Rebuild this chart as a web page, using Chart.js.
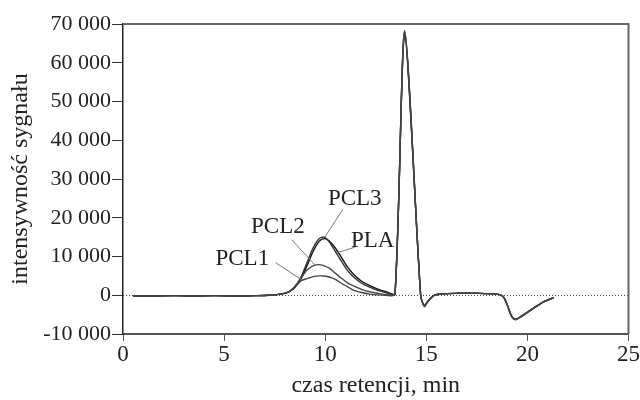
<!DOCTYPE html>
<html>
<head>
<meta charset="utf-8">
<script src="https://cdn.jsdelivr.net/npm/chart.js@4.4.1/dist/chart.umd.min.js"></script>
<style>
html,body{margin:0;padding:0;background:#fff;}
#wrap{width:640px;height:400px;}
</style>
</head>
<body>
<div id="wrap"><canvas id="c" width="640" height="400"></canvas></div>
<script>
// retention time (min)
const times = [0.5, 1.5, 2.5, 3.5, 4.5, 5.5, 6.5, 7.2, 7.8, 8.2, 8.5, 8.8, 9.1, 9.4, 9.7, 9.95, 10.2, 10.5, 10.8, 11.1, 11.4, 11.8, 12.2, 12.6, 13.0, 13.45, 13.93, 14.72, 14.9, 15.1, 15.4, 15.8, 16.5, 17.5, 18.5, 18.8, 19.0, 19.2, 19.4, 19.7, 20.0, 20.4, 20.8, 21.3];
// signal intensity per sample
const pcl1 = [-200, -200, -100, -200, -100, -200, -100, 0, 300, 900, 2200, 3700, 4300, 4800, 5000, 4950, 4700, 4100, 3100, 2200, 1300, 700, 300, 100, 0, 200, 67500, 0, -2600, -1400, 0, 400, 500, 500, 300, -300, -2400, -5200, -6200, -5400, -4400, -3000, -1700, -600];
const pcl2 = [-200, -200, -100, -200, -100, -200, -100, 0, 300, 900, 2200, 4400, 6500, 7600, 7900, 7600, 7000, 5700, 4400, 3200, 2400, 1500, 900, 500, 200, 250, 68000, 0, -2800, -1500, 0, 400, 500, 500, 300, -300, -2500, -5300, -6300, -5500, -4400, -3000, -1700, -600];
const pcl3 = [-200, -200, -100, -200, -100, -200, -100, 0, 300, 900, 2200, 4600, 8400, 12200, 14600, 15000, 13800, 11300, 8800, 6400, 4700, 3100, 2100, 1300, 700, 300, 68300, 0, -2900, -1500, 0, 400, 500, 500, 300, -300, -2500, -5300, -6300, -5500, -4400, -3000, -1700, -600];
const pla  = [-200, -200, -100, -200, -100, -200, -100, 0, 300, 900, 2000, 4200, 7600, 11300, 13900, 14600, 14000, 12200, 9800, 7300, 5400, 3600, 2500, 1600, 900, 400, 67000, 0, -2700, -1400, 0, 400, 500, 500, 300, -300, -2400, -5200, -6200, -5400, -4400, -3000, -1700, -600];
const seriesNames = ['PCL1', 'PCL2', 'PCL3', 'PLA'];
const xTicks = [0, 5, 10, 15, 20, 25];
const yTicks = [-10000, 0, 10000, 20000, 30000, 40000, 50000, 60000, 70000];
// curve labels: text anchor and leader line (in data units)
const labelText = ['PCL1', 'PCL2', 'PCL3', 'PLA'];
const labelPos = [[5.9, 9300], [7.66, 17600], [11.46, 24800], [12.35, 14000]];
const leaderFrom = [[7.55, 8400], [8.35, 14300], [10.88, 22200], [11.46, 12400]];
const leaderTo = [[8.83, 4000], [9.49, 7800], [9.98, 15000], [10.62, 11000]];

const FONT = '"Liberation Serif", "DejaVu Serif", serif';
const lineColors = ['#444444', '#4a4a4a', '#333333', '#111111'];
const allValues = [pcl1, pcl2, pcl3, pla];

const datasets = allValues.map((vals, i) => ({
  label: seriesNames[i],
  data: times.map((t, k) => ({x: t, y: vals[k]})),
  borderColor: lineColors[i],
  borderWidth: 1.4,
  pointRadius: 0,
  tension: 0.25,
  fill: false
}));

const fmt = v => {
  const s = Math.abs(v).toString().replace(/\B(?=(\d{3})+(?!\d))/g, ' ');
  return (v < 0 ? '-' : '') + s;
};

const decor = {
  id: 'decor',
  beforeDatasetsDraw(chart) {
    const {ctx, chartArea: a, scales: {x, y}} = chart;
    ctx.save();
    ctx.strokeStyle = '#444';
    ctx.lineWidth = 1;
    ctx.setLineDash([1, 2]);
    ctx.beginPath();
    const y0 = Math.round(y.getPixelForValue(0)) + 0.5;
    ctx.moveTo(a.left, y0);
    ctx.lineTo(a.right, y0);
    ctx.stroke();
    ctx.restore();
  },
  afterDraw(chart) {
    const {ctx, chartArea: a, scales: {x, y}} = chart;
    ctx.save();
    ctx.strokeStyle = '#666';
    ctx.lineWidth = 2;
    ctx.beginPath();
    ctx.moveTo(a.left, a.top);
    ctx.lineTo(a.right, a.top);
    ctx.lineTo(a.right, a.bottom);
    ctx.stroke();
    ctx.font = '23px ' + FONT;
    ctx.fillStyle = '#222';
    ctx.textAlign = 'center';
    ctx.textBaseline = 'middle';
    ctx.strokeStyle = '#777';
    ctx.lineWidth = 1;
    labelText.forEach((t, i) => {
      ctx.fillText(t, x.getPixelForValue(labelPos[i][0]), y.getPixelForValue(labelPos[i][1]));
      ctx.beginPath();
      ctx.moveTo(x.getPixelForValue(leaderFrom[i][0]), y.getPixelForValue(leaderFrom[i][1]));
      ctx.lineTo(x.getPixelForValue(leaderTo[i][0]), y.getPixelForValue(leaderTo[i][1]));
      ctx.stroke();
    });
    ctx.restore();
  }
};

new Chart(document.getElementById('c'), {
  type: 'line',
  data: {datasets},
  options: {
    responsive: false,
    animation: false,
    layout: {padding: {top: 24, right: 11, left: 0, bottom: 0}},
    plugins: {legend: {display: false}, tooltip: {enabled: false}},
    scales: {
      x: {
        type: 'linear',
        min: 0, max: 25,
        afterBuildTicks: s => { s.ticks = xTicks.map(v => ({value: v})); },
        afterFit: s => { s.height = 66; },
        ticks: {font: {family: FONT, size: 23}, color: '#222', padding: 0, maxRotation: 0},
        grid: {drawOnChartArea: false, tickLength: 7, color: '#555', lineWidth: 1},
        border: {color: '#555', width: 2},
        title: {display: true, text: 'czas retencji, min', font: {family: FONT, size: 24}, color: '#222', padding: {top: 0, bottom: 0}}
      },
      y: {
        min: -10000, max: 70000,
        afterBuildTicks: s => { s.ticks = yTicks.map(v => ({value: v})); },
        afterFit: s => { s.width = 123; },
        ticks: {font: {family: FONT, size: 22}, color: '#222', padding: 1, callback: v => fmt(v)},
        grid: {drawOnChartArea: false, tickLength: 11, color: '#333', lineWidth: 1},
        border: {color: '#222', width: 1.5},
        title: {display: true, text: 'intensywność sygnału', font: {family: FONT, size: 24}, color: '#222', padding: {top: 6, bottom: 0}}
      }
    }
  },
  plugins: [decor]
});
</script>
</body>
</html>
